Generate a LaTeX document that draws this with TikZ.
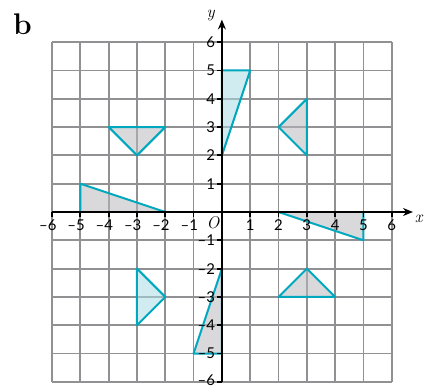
\documentclass[tikz,border=0pt]{standalone}
\usepackage{fontspec}
\usetikzlibrary{arrows.meta}
\definecolor{gridgray}{RGB}{145,145,148}
\definecolor{tricyan}{RGB}{0,168,190}
\definecolor{trigray}{RGB}{185,185,190}
\definecolor{tritint}{RGB}{170,220,228}
\newfontfamily\labfont{Lato}
\tikzset{
  gridline/.style={draw=gridgray, line width=1.8pt},
  axisline/.style={draw=black, line width=2.6pt},
  tri/.style={draw=tricyan, line width=2pt, line join=round, fill=trigray, fill opacity=0.55},
  tritinted/.style={tri, fill=tritint},
  numlab/.style={font=\labfont\fontsize{15}{15}\selectfont, inner sep=1pt},
  varlab/.style={font=\itshape\fontsize{17}{17}\selectfont, inner sep=0pt}
}
\begin{document}
\begin{tikzpicture}[x=1cm,y=1cm]
\useasboundingbox (-7.84,-6.22) rectangle (7.14,7.49);
% grid
\draw[gridline] (-6,-6) grid (6,6);
% triangles
\filldraw[tritinted] (0,2) -- (0,5) -- (1,5) -- cycle;
\filldraw[tri] (-4,3) -- (-2,3) -- (-3,2) -- cycle;
\filldraw[tri] (-5,1) -- (-5,0) -- (-2,0) -- cycle;
\filldraw[tri] (3,4) -- (3,2) -- (2,3) -- cycle;
\filldraw[tri] (2,0) -- (5,0) -- (5,-1) -- cycle;
\filldraw[tritinted] (-3,-2) -- (-3,-4) -- (-2,-3) -- cycle;
\filldraw[tri] (0,-2) -- (0,-5) -- (-1,-5) -- cycle;
\filldraw[tri] (2,-3) -- (4,-3) -- (3,-2) -- cycle;
% axes
\coordinate (xs) at (-6,0);
\coordinate (xe) at (6.75,0);
\coordinate (ys) at (0,-6);
\coordinate (ye) at (0,6.8);
\draw[axisline, -{Stealth[length=10pt,width=8pt]}] (xs) -- (xe);
\draw[axisline, -{Stealth[length=10pt,width=8pt]}] (ys) -- (ye);
% ticks and labels
\foreach \i in {1,...,6} {
  \draw[black, line width=1.8pt] (\i,0) -- (\i,-0.17);
  \node[numlab, anchor=north] (xp\i) at (\i,-0.22) {\i};
  \draw[black, line width=1.8pt] (-\i,0) -- (-\i,-0.17);
  \node[numlab, anchor=north] (xn\i) at (-\i,-0.22) {\llap{–}\i};
  \draw[black, line width=1.8pt] (0,\i) -- (-0.17,\i);
  \node[numlab, anchor=east] (yp\i) at (-0.2,\i) {\i};
  \draw[black, line width=1.8pt] (0,-\i) -- (-0.17,-\i);
}
\foreach \i in {1,...,5} {
  \node[numlab, anchor=east] (yn\i) at (-0.2,-\i) {–\i};
}
\node[numlab, anchor=east] (yn6) at (-0.2,-5.95) {–6};
\node[varlab] (O) at (-0.32,-0.38) {O};
\node[varlab] (xl) at (6.95,-0.25) {x};
\node[varlab] (yl) at (-0.4,6.95) {y};
\node[font=\bfseries\fontsize{30}{30}\selectfont] (b) at (-7.05,6.65) {b};
\end{tikzpicture}
\end{document}
